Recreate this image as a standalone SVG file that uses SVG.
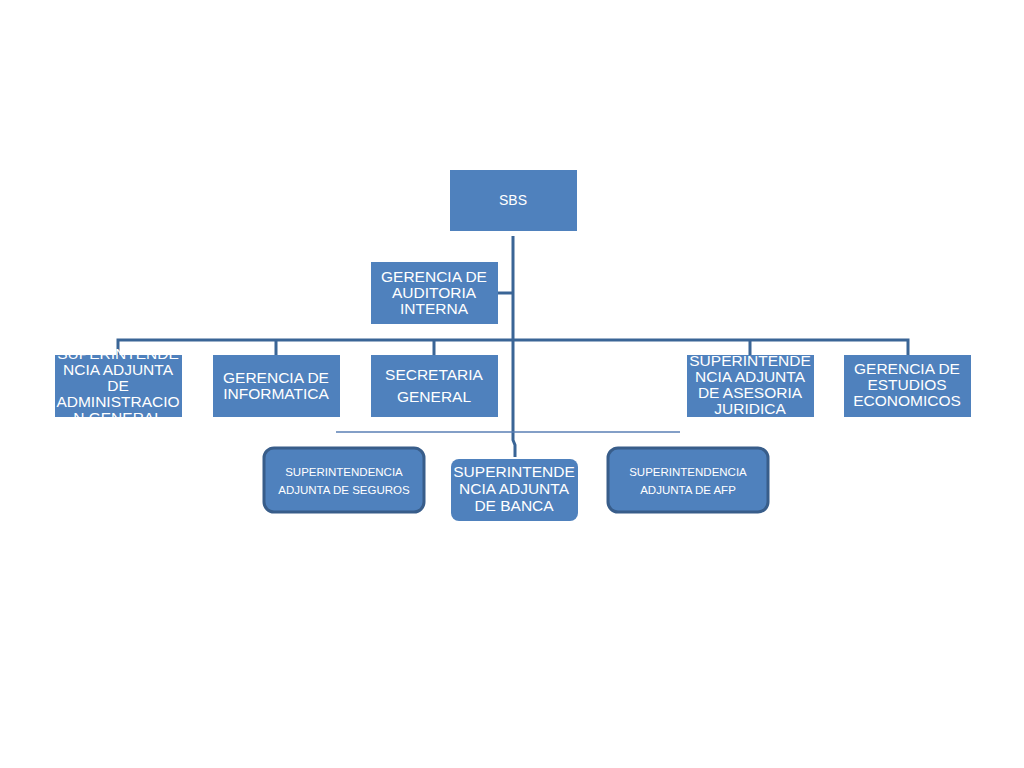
<svg xmlns="http://www.w3.org/2000/svg" width="1024" height="768" viewBox="0 0 1024 768">
<style>
.box{fill:#4F81BD}
.rbox{fill:#4F81BD;stroke:#385D8A;stroke-width:3}
.t{font-family:"Liberation Sans",Arial,sans-serif;font-size:15.5px;fill:#fff;text-anchor:middle}
.s{font-family:"Liberation Sans",Arial,sans-serif;font-size:11.5px;fill:#fff;text-anchor:middle}
.c{fill:none;stroke:#3A6596;stroke-width:3}
.thin{fill:none;stroke:#5A7FB5;stroke-width:1.5}
</style>
<rect width="1024" height="768" fill="#fff"/>
<g id="connectors">
<path class="c" d="M513,236 V440 L515,445 V457"/>
<path class="c" d="M498,293 H513"/>
<path class="c" d="M118,355 V340 H908 V355"/>
<path class="c" d="M276,340 V355 M434,340 V355 M750,340 V355"/>
<path class="thin" d="M336,432 H680"/>
</g>
<g id="sbs"><rect class="box" x="450" y="170" width="127" height="61"/><text class="t" x="513" y="205" style="font-size:14px">SBS</text></g>
<g id="auditoria"><rect class="box" x="371" y="262" width="127" height="62"/><text class="t" x="434" y="282">GERENCIA DE</text><text class="t" x="434" y="298">AUDITORIA</text><text class="t" x="434" y="314">INTERNA</text></g>
<g id="admin"><rect class="box" x="55" y="355" width="127" height="62"/><text class="t" x="118" y="359">SUPERINTENDE</text><text class="t" x="118" y="375">NCIA ADJUNTA</text><text class="t" x="118" y="391">DE</text><text class="t" x="118" y="407">ADMINISTRACIO</text><text class="t" x="118" y="423">N GENERAL</text></g>
<g id="informatica"><rect class="box" x="213" y="355" width="127" height="62"/><text class="t" x="276" y="383">GERENCIA DE</text><text class="t" x="276" y="399">INFORMATICA</text></g>
<g id="secretaria"><rect class="box" x="371" y="355" width="127" height="62"/><text class="t" x="434" y="380">SECRETARIA</text><text class="t" x="434" y="402">GENERAL</text></g>
<g id="juridica"><rect class="box" x="687" y="355" width="127" height="62"/><text class="t" x="750" y="366">SUPERINTENDE</text><text class="t" x="750" y="382">NCIA ADJUNTA</text><text class="t" x="750" y="398">DE ASESORIA</text><text class="t" x="750" y="414">JURIDICA</text></g>
<g id="estudios"><rect class="box" x="844" y="355" width="127" height="62"/><text class="t" x="907" y="374">GERENCIA DE</text><text class="t" x="907" y="390">ESTUDIOS</text><text class="t" x="907" y="406">ECONOMICOS</text></g>
<g id="seguros"><rect class="rbox" x="264" y="448" width="160" height="64" rx="10"/><text class="s" x="344" y="476">SUPERINTENDENCIA</text><text class="s" x="344" y="494">ADJUNTA DE SEGUROS</text></g>
<g id="banca"><rect class="box" x="451" y="459" width="127" height="62" rx="8"/><text class="t" x="514" y="477">SUPERINTENDE</text><text class="t" x="514" y="494">NCIA ADJUNTA</text><text class="t" x="514" y="511">DE BANCA</text></g>
<g id="afp"><rect class="rbox" x="608" y="448" width="160" height="64" rx="10"/><text class="s" x="688" y="476">SUPERINTENDENCIA</text><text class="s" x="688" y="494">ADJUNTA DE AFP</text></g>
</svg>
